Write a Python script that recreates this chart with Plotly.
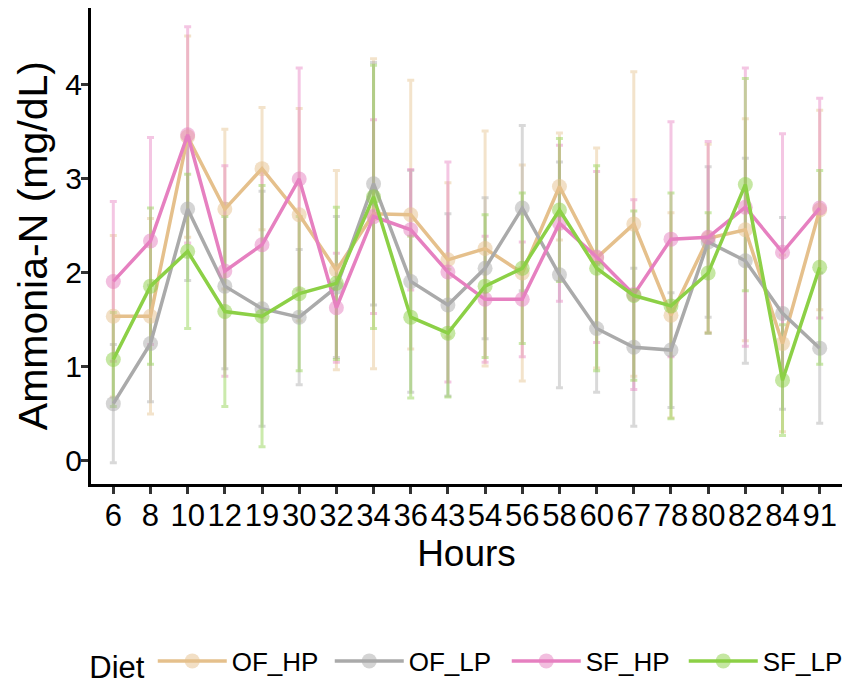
#!/usr/bin/env python3
# -*- coding: utf-8 -*-
"""
Ammonia-N by sampling hour for the four diets (mean +/- sd)
"""
import plotly.graph_objects as go

# --- data ---
hours = ["6", "8", "10", "12", "19", "30", "32", "34", "36", "43",
         "54", "56", "58", "60", "67", "78", "80", "82", "84", "91"]

of_hp_mean = [1.53, 1.53, 3.44, 2.67, 3.10, 2.61, 2.02, 2.62, 2.61, 2.13,
              2.25, 1.99, 2.91, 2.15, 2.51, 1.54, 2.36, 2.45, 1.24, 2.66]
of_hp_sd = [0.86, 1.04, 1.07, 0.85, 0.65, 1.13, 1.06, 1.65, 1.43, 0.82,
            1.25, 1.15, 0.57, 1.17, 1.62, 1.09, 1.00, 1.18, 0.94, 1.06]

of_lp_mean = [0.60, 1.24, 2.67, 1.85, 1.61, 1.52, 1.84, 2.94, 1.90, 1.65,
              2.04, 2.68, 1.97, 1.40, 1.20, 1.17, 2.32, 2.12, 1.56, 1.19]
of_lp_sd = [0.63, 0.62, 0.76, 0.88, 1.25, 0.72, 0.75, 1.29, 1.18, 0.97,
            0.75, 0.88, 1.20, 0.68, 0.84, 0.61, 0.80, 1.09, 1.02, 0.80]

sf_hp_mean = [1.90, 2.33, 3.46, 2.01, 2.29, 2.99, 1.62, 2.59, 2.45, 2.00,
              1.71, 1.71, 2.52, 2.16, 1.76, 2.35, 2.37, 2.69, 2.21, 2.68]
sf_hp_sd = [0.85, 1.10, 1.15, 1.12, 0.77, 1.18, 0.58, 1.03, 0.64, 1.17,
            0.67, 0.61, 0.83, 0.91, 1.01, 1.25, 1.02, 1.48, 1.26, 1.17]

sf_lp_mean = [1.07, 1.85, 2.22, 1.58, 1.53, 1.77, 1.88, 2.80, 1.52, 1.35,
              1.85, 2.04, 2.66, 2.04, 1.75, 1.64, 1.99, 2.93, 0.85, 2.05]
sf_lp_sd = [0.50, 0.83, 0.82, 1.01, 1.39, 0.82, 0.81, 1.40, 0.86, 0.68,
            0.76, 0.80, 0.76, 1.09, 0.90, 1.20, 0.64, 1.13, 0.59, 1.03]

diets = ["OF_HP", "OF_LP", "SF_HP", "SF_LP"]
y_ticks = [0, 1, 2, 3, 4]

# Set2-like palette (rgb) used by the original
colors = {"OF_HP": (229, 192, 140), "OF_LP": (170, 170, 170),
          "SF_HP": (230, 128, 192), "SF_LP": (140, 208, 70)}
series = {"OF_HP": (of_hp_mean, of_hp_sd), "OF_LP": (of_lp_mean, of_lp_sd),
          "SF_HP": (sf_hp_mean, sf_hp_sd), "SF_LP": (sf_lp_mean, sf_lp_sd)}

FONT = "Liberation Sans"


def rgba(c, a):
    return f"rgba({c[0]},{c[1]},{c[2]},{a})"


fig = go.Figure()

# error bars first so lines and points sit on top
for d in diets:
    mean, sd = series[d]
    fig.add_trace(go.Scatter(x=hours, y=mean, mode="markers",
                             marker=dict(size=1, opacity=0),
                             error_y=dict(type="data", array=sd, visible=True,
                                          color=rgba(colors[d], 0.45),
                                          thickness=3, width=3.5),
                             showlegend=False, hoverinfo="skip"))

for d in diets:
    mean, _ = series[d]
    fig.add_trace(go.Scatter(x=hours, y=mean, mode="lines+markers", name=d,
                             line=dict(color=rgba(colors[d], 1), width=3.5),
                             marker=dict(size=15, color=rgba(colors[d], 0.5),
                                         line=dict(width=0))))

# the page body adds an 8px offset, so the figure is 8px smaller than the window
fig.update_layout(
    template="none",
    width=843, height=677,
    margin=dict(l=83, r=9, t=0, b=201, autoexpand=False),
    paper_bgcolor="white", plot_bgcolor="white",
    font=dict(family=FONT, color="black"),
    legend=dict(orientation="h", x=-0.005, xanchor="left", y=-0.376, yanchor="middle",
                title=dict(text="Diet", font=dict(size=31, family=FONT)),
                font=dict(size=26, family=FONT), itemwidth=69,
                entrywidth=93, entrywidthmode="pixels"),
)
fig.update_xaxes(type="category", range=[-0.6, 19.6], automargin=False,
                 showline=True, linecolor="black", linewidth=3,
                 ticks="outside", ticklen=7, tickwidth=2.5, tickcolor="#333333",
                 ticklabelstandoff=-5,
                 tickfont=dict(size=31, color="black"), showgrid=False, zeroline=False,
                 title=dict(text="Hours", font=dict(size=37), standoff=4))
fig.update_yaxes(range=[-0.255, 4.809], tickvals=y_ticks, automargin=False,
                 showline=True, linecolor="black", linewidth=3,
                 ticks="outside", ticklen=7, tickwidth=2.5, tickcolor="#333333",
                 ticklabelstandoff=-7,
                 tickfont=dict(size=30, color="black"), showgrid=False, zeroline=False)

# y title as a rotated annotation, kept just inside the left edge of the figure
fig.add_annotation(text="Ammonia-N (mg/dL)", textangle=-90, showarrow=False,
                   xref="paper", yref="paper", x=-0.109, y=0.5,
                   xanchor="left", yanchor="middle", borderpad=0,
                   font=dict(size=41, family=FONT, color="black"))

fig.write_html("out.html")
